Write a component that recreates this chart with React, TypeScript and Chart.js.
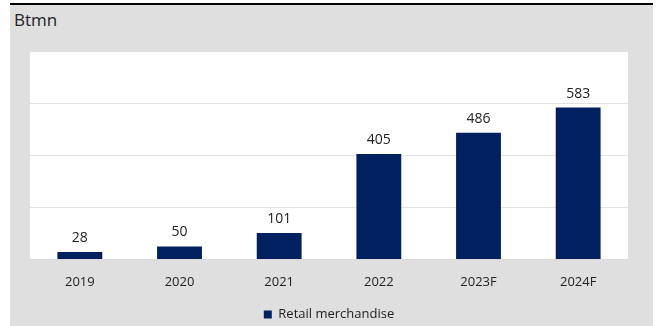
import React, { useEffect, useRef } from "react";
import { Chart, registerables } from "chart.js";

Chart.register(...registerables);

const categories = ["2019", "2020", "2021", "2022", "2023F", "2024F"];
const retailMerchandise = [28, 50, 101, 405, 486, 583];
const seriesName = "Retail merchandise";
const unitLabel = "Btmn";

const FONT = "'Open Sans', 'Liberation Sans', sans-serif";

const plotBg = {
  id: "plotBg",
  beforeDraw(chart: any) {
    const { ctx, chartArea } = chart;
    if (!chartArea) return;
    ctx.save();
    ctx.fillStyle = "#ffffff";
    ctx.fillRect(chartArea.left, chartArea.top, chartArea.right - chartArea.left, chartArea.bottom - chartArea.top);
    ctx.restore();
  },
};

const valueLabels = {
  id: "valueLabels",
  afterDatasetsDraw(chart: any) {
    const { ctx } = chart;
    ctx.save();
    ctx.font = `14px ${FONT}`;
    ctx.fillStyle = "#222222";
    ctx.textAlign = "center";
    ctx.textBaseline = "bottom";
    chart.data.datasets.forEach((ds: any, i: number) => {
      const meta = chart.getDatasetMeta(i);
      meta.data.forEach((bar: any, j: number) => {
        ctx.fillText(String(ds.data[j]), bar.x, bar.y - 7);
      });
    });
    ctx.restore();
  },
};

export default function App() {
  const ref = useRef<HTMLCanvasElement>(null);
  useEffect(() => {
    if (!ref.current) return;
    const chart = new Chart(ref.current, {
      type: "bar",
      data: {
        labels: categories,
        datasets: [
          {
            label: seriesName,
            data: retailMerchandise,
            backgroundColor: "#002060",
            categoryPercentage: 1,
            barPercentage: 0.45,
          },
        ],
      },
      options: {
        animation: false,
        responsive: false,
        maintainAspectRatio: false,
        layout: { padding: { left: 20, right: 25, top: 46, bottom: 0 } },
        scales: {
          x: {
            grid: { display: false, drawTicks: false },
            border: { display: true, color: "#d9d9d9" },
            ticks: { color: "#222222", font: { family: FONT, size: 13 }, padding: 15 },
            afterFit(scale: any) {
              scale.height += 3;
            },
          },
          y: {
            min: 0,
            max: 800,
            ticks: { display: false, stepSize: 200 },
            grid: { color: "#e2e2e2", drawTicks: false },
            border: { display: false },
          },
        },
        plugins: {
          legend: {
            position: "bottom",
            labels: {
              boxWidth: 8,
              boxHeight: 8,
              color: "#222222",
              font: { family: FONT, size: 13 },
              padding: 0,
            },
          },
          tooltip: { enabled: false },
        },
      },
      plugins: [plotBg, valueLabels],
    });
    return () => chart.destroy();
  }, []);

  return (
    <div style={{ position: "absolute", left: 0, top: 0, width: 666, height: 326, background: "#ffffff", overflow: "hidden" }}>
      <div
        style={{
          position: "absolute",
          left: 10,
          top: 3,
          width: 643,
          height: 323,
          background: "#dfdfdf",
          borderTop: "2px solid #000000",
          boxSizing: "border-box",
        }}
      >
        <div
          style={{
            position: "absolute",
            left: 4,
            top: 5,
            fontFamily: FONT,
            fontSize: 17,
            color: "#222222",
            lineHeight: "20px",
          }}
        >
          {unitLabel}
        </div>
        <canvas ref={ref} width={643} height={326} style={{ position: "absolute", left: 0, top: 0, display: "block" }} />
      </div>
    </div>
  );
}
